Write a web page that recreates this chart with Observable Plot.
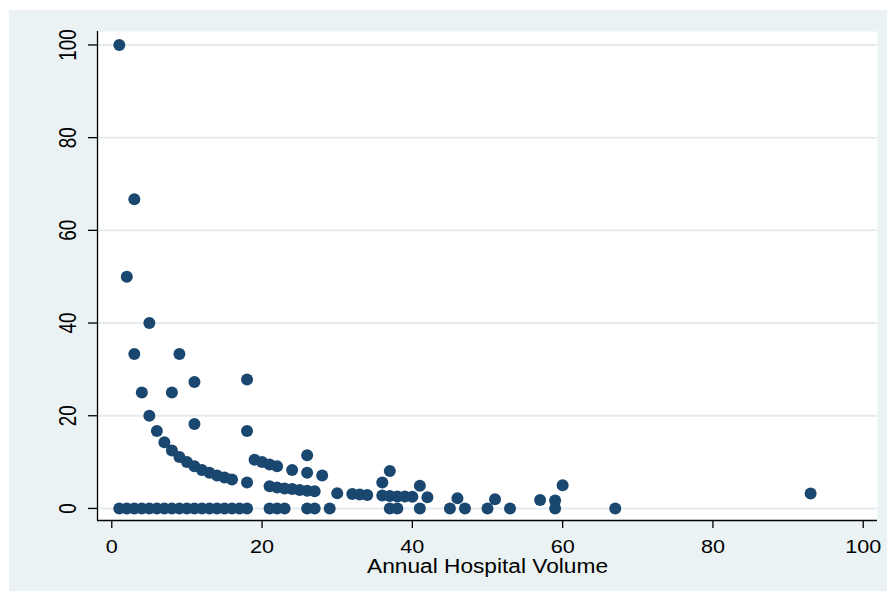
<!DOCTYPE html>
<html><head><meta charset="utf-8">
<script src="https://cdn.jsdelivr.net/npm/d3@7"></script>
<script src="https://cdn.jsdelivr.net/npm/@observablehq/plot@0.6"></script>
<style>
body{margin:0;background:#fff;}
#wrap{position:relative;width:887px;height:595px;}
#bg{position:absolute;left:9px;top:10px;width:878px;height:581px;background:#eaf2f3;}
#chart{position:absolute;left:0;top:0;}
#chart svg{font-family:"Liberation Sans",Arial,sans-serif;}
</style></head><body>
<div id="wrap"><div id="bg"></div><div id="chart"></div></div>
<script>
// Annual hospital volume (x) and rate in % (y)
const volume = [
  1,2,3,3,4,5,5,6,7,8,8,9,9,10,11,11,11,12,13,14,15,16,18,18,18,
  19,20,21,22,24,26,26,28,
  21,22,23,24,25,26,27,30,32,33,34,
  36,36,37,37,38,39,40,41,42,46,51,57,59,60,93,
  1,2,3,4,5,6,7,8,9,10,11,12,13,14,15,16,17,18,
  21,22,23,26,27,29,37,38,41,45,47,50,53,59,67
];
const rate = [
  100,50,66.7,33.3,25,40,20,16.7,14.3,25,12.5,33.3,11.1,10,27.3,18.2,9.1,8.3,7.7,7.1,6.7,6.25,27.8,16.7,5.6,
  10.5,10,9.5,9.1,8.3,11.5,7.7,7.1,
  4.8,4.5,4.3,4.2,4.0,3.8,3.7,3.3,3.1,3.0,2.9,
  5.6,2.8,8.1,2.7,2.6,2.6,2.5,4.9,2.4,2.2,2.0,1.8,1.7,5.0,3.2,
  0,0,0,0,0,0,0,0,0,0,0,0,0,0,0,0,0,0,
  0,0,0,0,0,0,0,0,0,0,0,0,0,0,0
];
const xTicks = [0,20,40,60,80,100];
const yTicks = [0,20,40,60,80,100];
const xTitle = "Annual Hospital Volume";

const data = volume.map((v,i)=>({volume:v, rate:rate[i]}));
const xDomain = [-1.9, 101.9];
const yDomain = [-2.6, 102.9];

const plot = Plot.plot({
  width: 887, height: 595,
  marginLeft: 97, marginRight: 10, marginTop: 31, marginBottom: 75,
  style: {background: "transparent", color: "#000", fontFamily: '"Liberation Sans", Arial, sans-serif'},
  x: {domain: xDomain},
  y: {domain: yDomain},
  marks: [
    Plot.frame({fill: "white", stroke: "none"}),
    Plot.gridY(yTicks, {stroke: "#e4ecef", strokeOpacity: 1, strokeWidth: 2}),
    Plot.dot(data, {x: "volume", y: "rate", r: 6, fill: "#1a476f", stroke: "none"}),
    Plot.ruleX([xDomain[0]], {stroke: "#000", strokeWidth: 1.3}),
    Plot.ruleY([yDomain[0]], {stroke: "#000", strokeWidth: 1.3}),
    Plot.axisX(xTicks, {tickSize: 8, tickPadding: 11, fontSize: 19, strokeWidth: 1.3,
      label: xTitle, labelAnchor: "center", labelOffset: 52, labelArrow: "none"}),
    Plot.axisY(yTicks, {tickSize: 9, tickPadding: 13, tickRotate: -90, fontSize: 23, strokeWidth: 1.3, label: null})
  ]
});
document.getElementById("chart").appendChild(plot);

const svg = d3.select(plot);
svg.selectAll('[aria-label="x-axis tick label"] text').each(function(){
  const t = this.textContent;
  d3.select(this).attr("font-size", 19).attr("textLength", 12*t.length).attr("lengthAdjust","spacingAndGlyphs");
});
svg.selectAll('[aria-label="y-axis tick label"] text').each(function(){
  const t = this.textContent;
  d3.select(this).attr("font-size", 23).attr("textLength", 10.5*t.length).attr("lengthAdjust","spacingAndGlyphs");
});
svg.selectAll('[aria-label="x-axis label"] text').each(function(){
  d3.select(this).attr("font-size", 20).attr("textLength", 241).attr("lengthAdjust","spacingAndGlyphs");
});
</script>
</body></html>
